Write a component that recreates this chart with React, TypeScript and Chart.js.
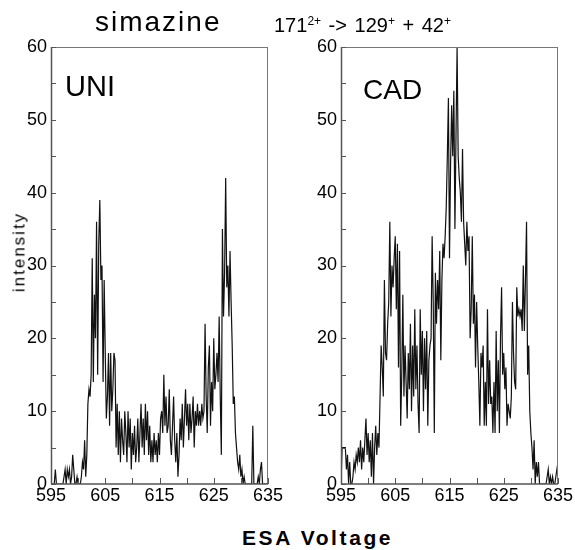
import React, { useEffect, useRef } from "react";
import { Chart, registerables } from "chart.js";

Chart.register(...registerables);

// Sampling grid of the ESA voltage scan
const VOLT_START = 595;
const VOLT_STEP = 0.2;

const X_TICKS = [595, 605, 615, 625, 635];
const X_MINOR = [595, 600, 605, 610, 615, 620, 625, 630, 635];
const Y_TICKS = [0, 10, 20, 30, 40, 50, 60];
const Y_MINOR = [0, 5, 10, 15, 20, 25, 30, 35, 40, 45, 50, 55, 60];

// UNI panel intensities
const UNI_VALUES = [
  0, 0, 0, 0, 2, 0, 0, 0, 0, 0,
  0, 0, 1, 2, 0, 2, 1, 2, 0, 1,
  4, 2, 0, 0, 1, 0, 0, 0, 1, 3,
  2, 6, 1, 4, 11, 13, 12, 15, 31, 14,
  26, 20, 36, 15, 33, 39, 28, 30, 14, 28,
  18, 9, 12, 18, 8, 18, 10, 13, 18, 17,
  5, 11, 4, 10, 3, 9, 6, 4, 10, 7,
  3, 10, 5, 9, 2, 7, 4, 8, 3, 5,
  9, 3, 7, 11, 5, 9, 4, 11, 6, 10,
  4, 8, 3, 6, 3, 7, 4, 6, 3, 7,
  4, 9, 10, 7, 15, 8, 12, 7, 8, 13,
  6, 4, 8, 12, 6, 3, 7, 1, 4, 9,
  6, 11, 5, 9, 13, 8, 11, 6, 11, 7,
  9, 12, 5, 10, 8, 11, 8, 10, 8, 11,
  9, 10, 22, 12, 7, 16, 19, 8, 14, 10,
  20, 13, 15, 18, 14, 23, 12, 4, 35, 23,
  29, 42, 27, 30, 23, 32, 25, 19, 11, 12,
  7, 5, 3, 2, 4, 1, 2, 0, 1, 0,
  0, 0, 0, 0, 0, 0, 8, 0, 0, 0,
  0, 1, 0, 2, 3, 0, 0, 0, 0, 0,
  0,
];

// CAD panel intensities
const CAD_VALUES = [
  0, 5, 5, 5, 5, 2, 4, 0, 3, 0,
  0, 1, 3, 2, 4, 3, 5, 3, 6, 2,
  5, 3, 6, 9, 4, 7, 3, 6, 1, 7,
  0, 5, 8, 4, 7, 5, 12, 19, 16, 12,
  28, 18, 17, 22, 25, 36, 23, 30, 27, 31,
  34, 24, 33, 16, 32, 8, 15, 26, 12, 19,
  14, 9, 18, 13, 22, 10, 19, 12, 24, 13,
  19, 11, 7, 24, 15, 21, 10, 20, 13, 21,
  8, 17, 19, 20, 34, 25, 7, 29, 22, 28,
  24, 32, 17, 28, 33, 31, 34, 38, 45, 53,
  31, 44, 52, 45, 54, 35, 48, 60, 45, 42,
  40, 36, 46, 36, 33, 30, 36, 32, 34, 20,
  24, 34, 22, 26, 16, 25, 19, 14, 8, 18,
  16, 19, 8, 14, 8, 24, 11, 17, 11, 12,
  7, 14, 7, 21, 10, 17, 7, 20, 27, 15,
  18, 13, 16, 8, 11, 10, 9, 12, 25, 18,
  14, 13, 27, 23, 24, 23, 24, 21, 30, 21,
  28, 36, 15, 19, 10, 7, 5, 2, 6, 0,
  3, 1, 3, 0, 0, 0, 0, 0, 0, 0,
  1, 2, 0, 1, 0, 1, 0, 0, 1, 2,
  3,
];

const FONT = "'Liberation Sans', Arial, Helvetica, sans-serif";

const framePlugin = {
  id: "frame",
  afterDatasetsDraw(chart: any) {
    const { ctx, chartArea: a, scales } = chart;
    const xs = scales.x;
    const ys = scales.y;
    ctx.save();
    // top and right border
    ctx.strokeStyle = "#777";
    ctx.lineWidth = 1;
    ctx.beginPath();
    ctx.moveTo(a.left, a.top + 0.5);
    ctx.lineTo(a.right, a.top + 0.5);
    ctx.moveTo(a.right - 0.5, a.top);
    ctx.lineTo(a.right - 0.5, a.bottom);
    ctx.stroke();
    // left and bottom axis
    ctx.strokeStyle = "#555";
    ctx.lineWidth = 1.5;
    ctx.beginPath();
    ctx.moveTo(a.left + 0.5, a.top);
    ctx.lineTo(a.left + 0.5, a.bottom);
    ctx.moveTo(a.left, a.bottom);
    ctx.lineTo(a.right, a.bottom);
    ctx.stroke();
    // inward ticks
    ctx.lineWidth = 1;
    ctx.strokeStyle = "#555";
    ctx.beginPath();
    for (const v of Y_MINOR) {
      const y = Math.round(ys.getPixelForValue(v)) + 0.5;
      ctx.moveTo(a.left, y);
      ctx.lineTo(a.left + 5, y);
    }
    for (const v of X_MINOR) {
      const x = Math.round(xs.getPixelForValue(v)) + 0.5;
      ctx.moveTo(x, a.bottom);
      ctx.lineTo(x, a.bottom - 6);
    }
    ctx.stroke();
    ctx.restore();
  },
};

function Panel({
  values,
  left,
  width,
  padRight,
}: {
  values: number[];
  left: number;
  width: number;
  padRight: number;
}) {
  const ref = useRef<HTMLCanvasElement | null>(null);
  useEffect(() => {
    if (!ref.current) return;
    const points = values.map((v, i) => ({
      x: VOLT_START + i * VOLT_STEP,
      y: v,
    }));
    const chart = new Chart(ref.current, {
      type: "line",
      data: {
        datasets: [
          {
            data: points,
            borderColor: "#111",
            borderWidth: 1.2,
            pointRadius: 0,
            tension: 0,
            fill: false,
          },
        ],
      },
      options: {
        animation: false,
        responsive: false,
        devicePixelRatio: 1,
        layout: { padding: { top: 47, right: padRight, left: 0, bottom: 0 } },
        plugins: {
          legend: { display: false },
          tooltip: { enabled: false },
          title: { display: false },
        },
        scales: {
          x: {
            type: "linear",
            min: 595,
            max: 635,
            grid: { display: false, drawTicks: false },
            border: { display: false },
            afterBuildTicks: (s: any) => {
              s.ticks = X_TICKS.map((v) => ({ value: v }));
            },
            afterFit: (s: any) => {
              s.height = 36;
            },
            ticks: {
              autoSkip: false,
              maxRotation: 0,
              padding: 1,
              color: "#000",
              font: { family: FONT, size: 18 },
            },
          },
          y: {
            type: "linear",
            min: 0,
            max: 60,
            grid: { display: false, drawTicks: false },
            border: { display: false },
            afterBuildTicks: (s: any) => {
              s.ticks = Y_TICKS.map((v) => ({ value: v }));
            },
            afterFit: (s: any) => {
              s.width = 51;
            },
            ticks: {
              padding: 4,
              color: "#000",
              font: { family: FONT, size: 18 },
            },
          },
        },
      },
      plugins: [framePlugin],
    });
    return () => chart.destroy();
  }, [values, padRight]);
  return (
    <canvas
      ref={ref}
      width={width}
      height={520}
      style={{ position: "absolute", left, top: 0, width, height: 520 }}
    />
  );
}

const supStyle: React.CSSProperties = {
  fontSize: "0.6em",
  position: "relative",
  top: "-0.6em",
  verticalAlign: "baseline",
};

export default function App() {
  return (
    <div
      style={{
        position: "absolute",
        left: 0,
        top: 0,
        width: 575,
        height: 550,
        background: "#fff",
        fontFamily: FONT,
        color: "#000",
        overflow: "hidden",
      }}
    >
      <Panel values={UNI_VALUES} left={0} width={290} padRight={22} />
      <Panel values={CAD_VALUES} left={290} width={285} padRight={17} />
      <div
        style={{
          position: "absolute",
          left: 95,
          top: 8,
          fontSize: 28,
          lineHeight: 1,
          letterSpacing: "2px",
          whiteSpace: "nowrap",
        }}
      >
        simazine
      </div>
      <div
        style={{
          position: "absolute",
          left: 274,
          top: 15,
          fontSize: 20,
          lineHeight: 1,
          wordSpacing: "2px",
          whiteSpace: "nowrap",
        }}
      >
        171<span style={supStyle}>2+</span> -&gt; 129<span style={supStyle}>+</span> + 42
        <span style={supStyle}>+</span>
      </div>
      <div
        style={{
          position: "absolute",
          left: 65,
          top: 72,
          fontSize: 29,
          lineHeight: 1,
          whiteSpace: "nowrap",
        }}
      >
        UNI
      </div>
      <div
        style={{
          position: "absolute",
          left: 363,
          top: 76,
          fontSize: 28,
          lineHeight: 1,
          whiteSpace: "nowrap",
        }}
      >
        CAD
      </div>
      <div
        style={{
          position: "absolute",
          left: 19,
          top: 252,
          fontSize: 17,
          lineHeight: 1,
          letterSpacing: "2px",
          whiteSpace: "nowrap",
          transform: "translate(-50%, -50%) rotate(-90deg)",
        }}
      >
        intensity
      </div>
      <div
        style={{
          position: "absolute",
          left: 242,
          top: 527,
          fontSize: 21,
          fontWeight: "bold",
          lineHeight: 1,
          letterSpacing: "2.6px",
          whiteSpace: "nowrap",
        }}
      >
        ESA Voltage
      </div>
    </div>
  );
}
